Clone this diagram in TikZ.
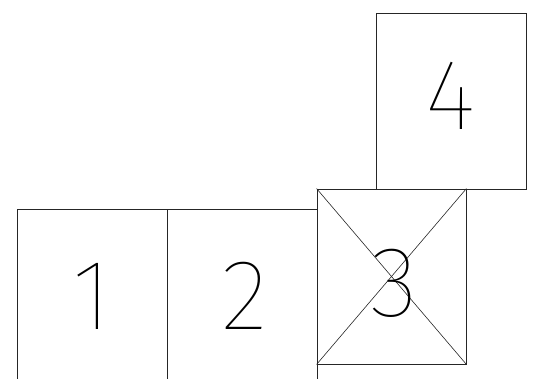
\documentclass[tikz,border=0pt]{standalone}
\usepackage{fontspec}
\newfontfamily\digitfont{Fira Sans Thin}
\usetikzlibrary{positioning}

\begin{document}
\begin{tikzpicture}[x=1pt, y=-1pt,
        cell/.style={rectangle, draw=black!85, line width=0.8pt, minimum width=150pt, minimum height=176pt, inner sep=0pt},
        digit/.style={inner sep=0pt, text=black, font=\digitfont\fontsize{100}{100}\selectfont},
        cross/.style={draw=black!85, line width=0.6pt}
    ]
        \useasboundingbox (0,0) rectangle (536,379);
        \clip (0,0) rectangle (536,379);
        % bottom row runs past the lower edge
        \node[cell] (one) at (92,297) {};
        \node[cell] (two) at (242,297) {};
        \node[cell] (four) at (451.5,101) {};
        \node[cell, minimum width=149pt, minimum height=175pt] (three) at (391.5,276.5) {};
        \draw[cross] (three.north west) -- (three.south east);
        \draw[cross] (three.north east) -- (three.south west);
        % numbers
        \node[digit] (n1) at (92,296.5) {1};
        \node[digit] (n2) at (244.5,296) {2};
        \node[digit] (n3) at (394.5,283.5) {3};
        \node[digit] (n4) at (451,95.5) {4};
    \end{tikzpicture}
\end{document}
